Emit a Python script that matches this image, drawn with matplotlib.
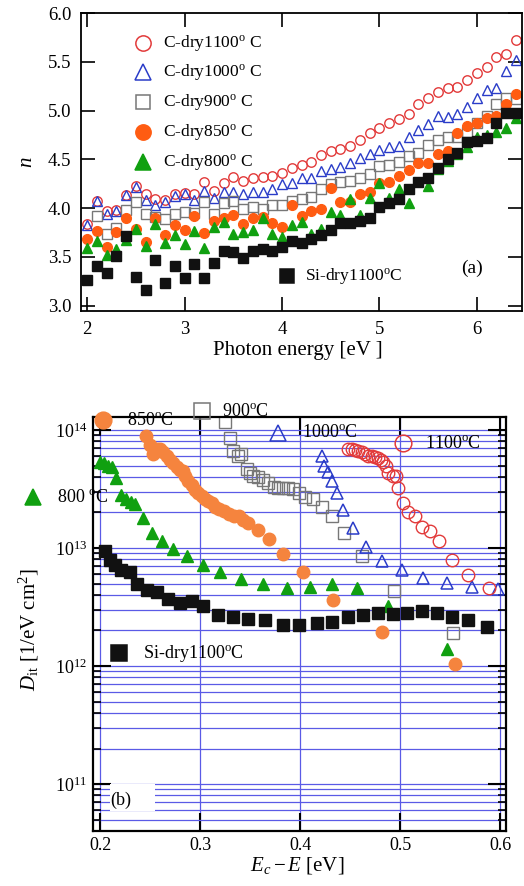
import numpy as np
import matplotlib
matplotlib.use('Agg')
import matplotlib.pyplot as plt
from matplotlib.lines import Line2D
from matplotlib.patches import Rectangle
from matplotlib.ticker import MultipleLocator, FormatStrFormatter, LogLocator, NullFormatter

plt.rcParams['font.family'] = ['Liberation Serif', 'DejaVu Serif']
plt.rcParams['mathtext.fontset'] = 'custom'
plt.rcParams['mathtext.rm'] = 'Liberation Serif'
plt.rcParams['mathtext.it'] = 'Liberation Serif:italic'
plt.rcParams['mathtext.bf'] = 'Liberation Serif:bold'

# ---- (a) refractive index n vs photon energy ----
energy = [2.0, 2.1, 2.2, 2.3, 2.4, 2.5, 2.6, 2.7, 2.8, 2.9,
          3.0, 3.1, 3.2, 3.3, 3.4, 3.5, 3.6, 3.7, 3.8, 3.9,
          4.0, 4.1, 4.2, 4.3, 4.4, 4.5, 4.6, 4.7, 4.8, 4.9,
          5.0, 5.1, 5.2, 5.3, 5.4, 5.5, 5.6, 5.7, 5.8, 5.9,
          6.0, 6.1, 6.2, 6.3, 6.4]
energy_900 = energy[1:]
energy_800 = [e for e in energy if e != 5.4]

n_1100 = [3.84, 4.07, 3.97, 3.98, 4.13, 4.23, 4.14, 4.09, 4.08, 4.14,
          4.16, 4.15, 4.27, 4.18, 4.26, 4.32, 4.28, 4.31, 4.32, 4.33,
          4.36, 4.41, 4.44, 4.47, 4.54, 4.59, 4.61, 4.64, 4.70, 4.77,
          4.82, 4.87, 4.91, 4.97, 5.07, 5.13, 5.19, 5.23, 5.24, 5.31,
          5.38, 5.45, 5.55, 5.58, 5.72]
n_1000 = [3.83, 4.07, 3.94, 3.97, 4.13, 4.22, 4.08, 4.03, 4.06, 4.12,
          4.15, 4.08, 4.18, 4.10, 4.17, 4.17, 4.14, 4.17, 4.17, 4.20,
          4.25, 4.26, 4.31, 4.31, 4.38, 4.40, 4.42, 4.46, 4.51, 4.55,
          4.60, 4.63, 4.64, 4.73, 4.80, 4.86, 4.94, 4.93, 4.96, 5.04,
          5.13, 5.21, 5.23, 5.41, 5.52]
n_900 = [3.92, 3.74, 3.80, 3.98, 4.06, 3.94, 3.91, 3.89, 3.94,
         3.96, 3.95, 4.06, 3.94, 4.05, 4.07, 3.99, 4.01, 3.99, 4.03,
         4.03, 4.07, 4.09, 4.11, 4.20, 4.25, 4.27, 4.28, 4.31, 4.35,
         4.43, 4.44, 4.47, 4.53, 4.57, 4.65, 4.70, 4.73, 4.73, 4.78,
         4.87, 4.94, 5.07, 5.13, 5.12]
n_850 = [3.68, 3.77, 3.60, 3.76, 3.90, 3.79, 3.65, 3.90, 3.72, 3.83,
         3.78, 3.92, 3.75, 3.87, 3.90, 3.93, 3.84, 3.90, 3.91, 3.85,
         3.81, 4.03, 3.92, 3.97, 3.99, 4.21, 4.06, 4.06, 4.14, 4.17,
         4.26, 4.27, 4.33, 4.39, 4.46, 4.46, 4.55, 4.59, 4.77, 4.84,
         4.87, 4.92, 4.94, 5.07, 5.17]
n_800 = [3.59, 3.66, 3.52, 3.58, 3.67, 3.79, 3.61, 3.84, 3.64, 3.72,
         3.63, 3.77, 3.59, 3.81, 3.86, 3.73, 3.76, 3.78, 3.90, 3.74,
         3.70, 3.83, 3.86, 3.73, 3.79, 3.96, 3.93, 4.09, 3.93, 4.10,
         4.26, 4.10, 4.20, 4.05, 4.23, 4.40, 4.48, 4.56, 4.63,
         4.73, 4.75, 4.78, 4.82, 4.92]
n_si = [3.26, 3.41, 3.34, 3.51, 3.71, 3.29, 3.16, 3.47, 3.23, 3.41,
        3.28, 3.43, 3.28, 3.44, 3.56, 3.55, 3.49, 3.56, 3.58, 3.56,
        3.60, 3.66, 3.64, 3.68, 3.72, 3.78, 3.85, 3.85, 3.87, 3.90,
        4.01, 4.05, 4.09, 4.20, 4.27, 4.31, 4.41, 4.50, 4.57, 4.68,
        4.69, 4.72, 4.87, 4.98, 4.98]

labels_a = ['C-dry1100$^{\\rm o}$ C', 'C-dry1000$^{\\rm o}$ C', 'C-dry900$^{\\rm o}$ C',
            'C-dry850$^{\\rm o}$ C', 'C-dry800$^{\\rm o}$ C']
label_si = 'Si-dry1100$^{\\rm o}$C'

# ---- (b) interface state density vs Ec - E ----
e_800 = [0.200, 0.204, 0.208, 0.212, 0.216, 0.221, 0.226, 0.231, 0.235, 0.243,
         0.252, 0.262, 0.273, 0.287, 0.303, 0.320, 0.341, 0.363, 0.387, 0.410,
         0.432, 0.457, 0.488, 0.547]
d_800 = [5.4e13, 5.2e13, 5.0e13, 4.9e13, 3.9e13, 2.8e13, 2.6e13, 2.45e13, 2.35e13, 1.78e13,
         1.35e13, 1.15e13, 9.8e12, 8.5e12, 7.2e12, 6.2e12, 5.5e12, 5.0e12, 4.6e12, 4.7e12,
         5.0e12, 4.6e12, 3.2e12, 1.4e12]

e_850 = [0.246, 0.250, 0.253, 0.257, 0.260, 0.263, 0.267, 0.270, 0.273, 0.277,
         0.280, 0.283, 0.285, 0.288, 0.292, 0.295, 0.298, 0.302, 0.305, 0.308,
         0.312, 0.315, 0.319, 0.324, 0.329, 0.334, 0.339, 0.343, 0.348, 0.358,
         0.369, 0.383, 0.403, 0.433, 0.482, 0.555]
d_850 = [8.9e13, 7.4e13, 6.2e13, 6.9e13, 6.9e13, 6.5e13, 6.0e13, 5.6e13, 5.2e13, 4.9e13,
         4.6e13, 4.5e13, 4.1e13, 3.7e13, 3.4e13, 3.1e13, 2.9e13, 2.75e13, 2.6e13, 2.5e13,
         2.4e13, 2.24e13, 2.14e13, 2.04e13, 1.95e13, 1.86e13, 1.86e13, 1.74e13, 1.62e13, 1.41e13,
         1.2e13, 8.9e12, 6.2e12, 3.6e12, 1.95e12, 1.05e12]

e_900 = [0.325, 0.330, 0.333, 0.338, 0.341, 0.347, 0.350, 0.353, 0.358, 0.363,
         0.368, 0.374, 0.378, 0.383, 0.388, 0.393, 0.399, 0.405, 0.413, 0.422,
         0.432, 0.444, 0.462, 0.494, 0.553]
d_900 = [1.17e14, 8.5e13, 6.6e13, 6.0e13, 6.2e13, 4.7e13, 4.3e13, 4.1e13, 4.0e13, 3.8e13,
         3.55e13, 3.3e13, 3.2e13, 3.2e13, 3.2e13, 3.16e13, 2.9e13, 2.7e13, 2.6e13, 2.24e13,
         1.86e13, 1.35e13, 8.5e12, 4.3e12, 1.9e12]

e_1000 = [0.422, 0.424, 0.428, 0.432, 0.437, 0.443, 0.453, 0.466, 0.482, 0.502,
          0.523, 0.547, 0.572, 0.598]
d_1000 = [6.0e13, 5.0e13, 4.4e13, 3.7e13, 2.9e13, 2.1e13, 1.48e13, 1.02e13, 7.8e12, 6.5e12,
          5.6e12, 5.1e12, 4.7e12, 4.5e12]

e_1100 = [0.448, 0.452, 0.455, 0.458, 0.462, 0.465, 0.468, 0.472, 0.475, 0.478,
          0.481, 0.483, 0.486, 0.488, 0.493, 0.496, 0.498, 0.503, 0.508, 0.515,
          0.522, 0.530, 0.539, 0.552, 0.568, 0.589]
d_1100 = [6.9e13, 6.9e13, 6.8e13, 6.6e13, 6.5e13, 6.2e13, 6.0e13, 6.0e13, 5.9e13, 5.8e13,
          5.6e13, 5.4e13, 5.0e13, 4.3e13, 4.1e13, 4.1e13, 3.2e13, 2.4e13, 2.0e13, 1.86e13,
          1.5e13, 1.38e13, 1.15e13, 7.9e12, 5.9e12, 4.6e12]

e_si = [0.205, 0.210, 0.215, 0.221, 0.230, 0.237, 0.247, 0.257, 0.268, 0.280,
        0.292, 0.303, 0.318, 0.333, 0.348, 0.365, 0.383, 0.399, 0.417, 0.432,
        0.448, 0.463, 0.478, 0.493, 0.507, 0.522, 0.537, 0.552, 0.568, 0.587]
d_si = [9.5e12, 7.9e12, 7.2e12, 6.5e12, 6.2e12, 5.0e12, 4.4e12, 4.2e12, 3.7e12, 3.4e12,
        3.55e12, 3.2e12, 2.7e12, 2.6e12, 2.5e12, 2.45e12, 2.24e12, 2.24e12, 2.3e12, 2.35e12,
        2.6e12, 2.7e12, 2.8e12, 2.75e12, 2.8e12, 2.95e12, 2.8e12, 2.6e12, 2.45e12, 2.14e12]

RED = '#e23a3a'
BLUE = '#2a3cc8'
GRAY = '#777777'
ORANGE_A = '#ff5c12'
ORANGE_B = '#f5843e'
GREEN = '#10a010'
BLACK = '#111111'
GRID = '#5a5ae6'

W, H = 524, 886
fig = plt.figure(figsize=(W / 100, H / 100), dpi=100)


def fig_box(left, top, right, bottom):
    # pixel box -> figure fraction
    return [left / W, 1 - bottom / H, (right - left) / W, (bottom - top) / H]


def key(x, y, marker, ms, color, filled, text, tx, size):
    # marker and label placed at pixel positions of the figure
    fig.add_artist(Line2D([x / W], [1 - y / H], transform=fig.transFigure, marker=marker,
                          ms=ms, mec=color, mfc=color if filled else 'none', mew=1.1, ls='none'))
    fig.text(tx / W, 1 - y / H, text, fontsize=size, va='center', ha='left')


ax1 = fig.add_axes(fig_box(81, 13, 522, 311))
ax2 = fig.add_axes(fig_box(93, 417, 506, 831))

# ---------- panel (a) ----------
ax1.plot(energy, n_1100, ls='none', marker='o', ms=6.8, mfc='none', mec=RED, mew=1.0)
ax1.plot(energy, n_1000, ls='none', marker='^', ms=6.8, mfc='none', mec=BLUE, mew=1.0)
ax1.plot(energy_900, n_900, ls='none', marker='s', ms=6.5, mfc='none', mec=GRAY, mew=1.0)
ax1.plot(energy, n_850, ls='none', marker='o', ms=7, mfc=ORANGE_A, mec=ORANGE_A)
ax1.plot(energy_800, n_800, ls='none', marker='^', ms=7, mfc=GREEN, mec=GREEN)
ax1.plot(energy, n_si, ls='none', marker='s', ms=6.5, mfc=BLACK, mec=BLACK)

ax1.set_xlim(1.938, 6.462)
ax1.set_ylim(2.946, 6.0)
ax1.xaxis.set_major_locator(MultipleLocator(1))
ax1.yaxis.set_major_locator(MultipleLocator(0.5))
ax1.yaxis.set_major_formatter(FormatStrFormatter('%.1f'))
ax1.tick_params(direction='in', top=True, right=True, length=10, width=1.2,
                labelsize=13.5, pad=7)
for s in ax1.spines.values():
    s.set_linewidth(1.3)
ax1.set_xlabel('Photon energy [eV ]', fontsize=15)
ax1.xaxis.set_label_coords(0.492, -0.1)
ax1.set_ylabel('$n$', fontsize=15)
ax1.yaxis.set_label_coords(-0.1, 0.5)
fig.text(472 / W, 1 - 268 / H, '(a)', fontsize=14, ha='center', va='center')

key(143, 43, 'o', 11, RED, False, labels_a[0], 163, 12.5)
key(143, 72, '^', 11, BLUE, False, labels_a[1], 163, 12.5)
key(143, 102, 's', 10, GRAY, False, labels_a[2], 163, 12.5)
key(143, 132, 'o', 11, ORANGE_A, True, labels_a[3], 163, 12.5)
key(143, 162, '^', 11, GREEN, True, labels_a[4], 163, 12.5)
key(287, 276, 's', 10, BLACK, True, label_si, 305, 12.5)

# ---------- panel (b) ----------
ax2.set_yscale('log')
ax2.set_axisbelow(True)
ax2.plot(e_800, d_800, ls='none', marker='^', ms=8.5, mfc=GREEN, mec=GREEN)
ax2.plot(e_850, d_850, ls='none', marker='o', ms=9, mfc=ORANGE_B, mec=ORANGE_B)
ax2.plot(e_900, d_900, ls='none', marker='s', ms=8, mfc='none', mec=GRAY, mew=1.0)
ax2.plot(e_1000, d_1000, ls='none', marker='^', ms=8.5, mfc='none', mec=BLUE, mew=1.1)
ax2.plot(e_1100, d_1100, ls='none', marker='o', ms=9, mfc='none', mec=RED, mew=1.0)
ax2.plot(e_si, d_si, ls='none', marker='s', ms=8.5, mfc=BLACK, mec=BLACK)

ax2.set_xlim(0.193, 0.606)
ax2.set_ylim(10 ** 10.602, 10 ** 14.11)
ax2.xaxis.set_major_locator(MultipleLocator(0.1))
ax2.xaxis.set_major_formatter(FormatStrFormatter('%.1f'))
ax2.yaxis.set_major_locator(LogLocator(base=10, numticks=10))
ax2.yaxis.set_minor_locator(LogLocator(base=10, subs=np.arange(2, 10), numticks=40))
ax2.yaxis.set_minor_formatter(NullFormatter())
ax2.grid(True, which='both', axis='y', color=GRID, lw=0.9)
ax2.grid(True, which='major', axis='x', color=GRID, lw=0.9)
ax2.tick_params(which='major', direction='in', top=True, right=True, length=13, width=1.5,
                labelsize=13, pad=4)
ax2.tick_params(which='minor', direction='in', left=True, right=True, length=6, width=1.2)
for s in ax2.spines.values():
    s.set_linewidth(1.6)
ax2.set_xlabel('$E_c - E$ [eV]', fontsize=15)
ax2.xaxis.set_label_coords(0.495, -0.058)
ax2.set_ylabel('$D_{\\rm it}$ [1/eV cm$^2$]', fontsize=15)
ax2.yaxis.set_label_coords(-0.125, 0.486)

key(103, 420, 'o', 12, ORANGE_B, True, '850$^{\\rm o}$C', 127, 13)
key(202, 411, 's', 11, GRAY, False, '900$^{\\rm o}$C', 222, 13)
key(278, 433, '^', 11, BLUE, False, '1000$^{\\rm o}$C', 302, 13)
key(403, 443, 'o', 12, RED, False, '1100$^{\\rm o}$C', 425, 13)
key(33, 497, '^', 11, GREEN, True, '800 $^{\\rm o}$C', 57, 13)
key(119, 653, 's', 11, BLACK, True, 'Si-dry1100$^{\\rm o}$C', 143, 13)

# blank strip behind the (b) mark, as in the original scan
fig.add_artist(Rectangle((110 / W, 1 - 811 / H), 45 / W, 27 / H, transform=fig.transFigure,
                         fc='white', ec='none'))
fig.text(121 / W, 1 - 800 / H, '(b)', fontsize=13, ha='center', va='center')

fig.savefig('out.png', dpi=100)
